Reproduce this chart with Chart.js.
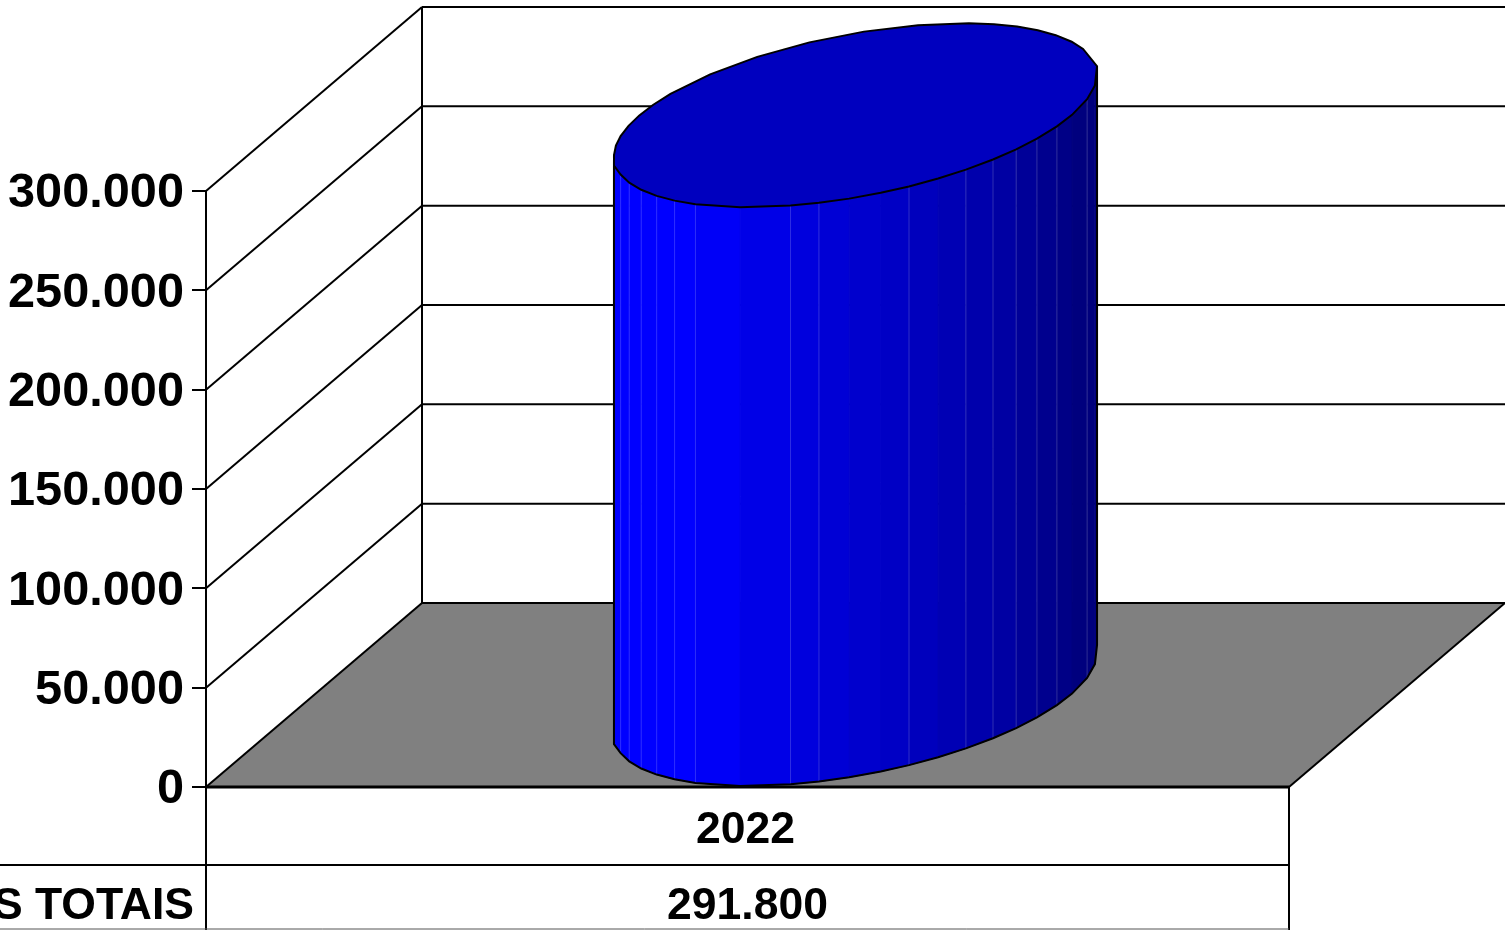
<!DOCTYPE html>
<html>
<head>
<meta charset="utf-8">
<title>Receitas totais</title>
<script src="https://cdn.jsdelivr.net/npm/chart.js@4"></script>
<style>
  html, body { margin: 0; padding: 0; background: #fff; overflow: hidden; }
  canvas { display: block; }
</style>
</head>
<body>
<canvas id="chart" width="1505" height="930"></canvas>
<script>
// data
const categories = ["2022"];
const seriesLabel = "S TOTAIS";
const seriesValues = [291800];
const yTicks = [0, 50000, 100000, 150000, 200000, 250000, 300000];

// 3d look
const DEPTH = { x: 216, y: -184 };
const FLOOR_COLOR = "#808080";
const TOP_COLOR = "#0000bf";
const FONT = "'Liberation Sans', Arial, sans-serif";
const ROW_LINE = 865;
// facet edges round the front of the cylinder, degrees from the left edge
const frontAngles = [6.5, 13.5, 20.5, 27.5, 34.6, 41.5, 48.5, 61.5, 74.4, 81.3, 88.5, 96, 102.8, 110, 117.2, 124.7, 131.7, 138.7, 146.5, 153.7, 163.5, 172.4];
// the back of the top rim has its own corners
const backAngles = [185.7, 199.6, 206.5, 214, 221, 228, 235, 242, 255, 268, 281, 294, 307, 320, 327, 333.5, 340, 346.5, 352.7, 359];
const seamAngles = [13.5, 20.5, 27.5, 34.6, 41.5, 48.5, 74.4, 81.3, 102.8, 117.2, 124.7, 131.7, 138.7, 146.5, 163.5];
// blue channel across the cylinder width
const shadeStops = [[0, 255], [0.17, 255], [0.28, 235], [0.6, 195], [0.8, 165], [0.97, 125], [1, 125]];

const fmt = v => v.toLocaleString("de-DE");

function shadeAt(f) {
  for (let i = 1; i < shadeStops.length; i++) {
    const a = shadeStops[i - 1], b = shadeStops[i];
    if (f <= b[0]) return Math.round(a[1] + (b[1] - a[1]) * (f - a[0]) / (b[0] - a[0]));
  }
  return 125;
}

function line(ctx, x1, y1, x2, y2, w, color) {
  ctx.beginPath();
  ctx.moveTo(x1, y1);
  ctx.lineTo(x2, y2);
  ctx.lineWidth = w || 2;
  ctx.strokeStyle = color || "#000";
  ctx.stroke();
}

// nudges the tick labels once the scales have laid them out
const labelNudgePlugin = {
  id: "labelNudge",
  beforeDraw(chart) {
    chart.scales.y.getLabelItems().forEach(it => { it.textOffset += 3; });
    chart.scales.x.getLabelItems().forEach(it => {
      const t = it.options.translation;
      it.options.translation = [t[0] - 2, t[1]];
    });
  }
};

// walls and floor, behind the bar
const wallsPlugin = {
  id: "walls",
  beforeDatasetsDraw(chart) {
    const { ctx, chartArea: a, scales: { y } } = chart;
    ctx.save();
    ctx.beginPath();
    ctx.moveTo(a.left, a.bottom);
    ctx.lineTo(a.right, a.bottom);
    ctx.lineTo(a.right + DEPTH.x, a.bottom + DEPTH.y);
    ctx.lineTo(a.left + DEPTH.x, a.bottom + DEPTH.y);
    ctx.closePath();
    ctx.fillStyle = FLOOR_COLOR;
    ctx.fill();
    yTicks.forEach(v => {
      const py = y.getPixelForValue(v);
      line(ctx, a.left, py, a.left + DEPTH.x, py + DEPTH.y);
      line(ctx, a.left + DEPTH.x, py + DEPTH.y, a.right + DEPTH.x, py + DEPTH.y);
    });
    line(ctx, a.left + DEPTH.x, a.top + DEPTH.y, a.left + DEPTH.x, a.bottom + DEPTH.y);
    line(ctx, a.right, a.bottom, a.right + DEPTH.x, a.bottom + DEPTH.y);
    line(ctx, a.left, a.bottom, a.right, a.bottom, 3);
    ctx.restore();
  }
};

// the bar element gives x, top, base and width, the cylinder is built on those
const cylinderPlugin = {
  id: "cylinder",
  afterDatasetsDraw(chart) {
    const { ctx } = chart;
    const bar = chart.getDatasetMeta(0).data[0];
    const R = bar.width / 2;
    const cx = bar.x + DEPTH.x / 2;
    const hd = { x: DEPTH.x / 2, y: DEPTH.y / 2 };
    const t0 = Math.PI + Math.atan2(hd.x, R);
    const halfW = Math.hypot(R, hd.x);
    const left = cx - halfW;
    const width = 2 * halfW;
    const first = frontAngles[0], last = frontAngles[frontAngles.length - 1];
    const rimPoint = (cy, deg) => {
      const t = t0 + deg * Math.PI / 180;
      const y = cy + hd.y * Math.sin(t);
      // these two corners sit on the silhouette
      if (deg === first) return { x: left, y };
      if (deg === backAngles[0]) return { x: left + width, y };
      return { x: cx + R * Math.cos(t) + hd.x * Math.sin(t), y };
    };
    const topY = bar.y + hd.y;
    const baseY = bar.base + hd.y;

    ctx.save();
    // silhouette strip behind the facets, right side reaches up to the back corner
    const backTop = rimPoint(topY, backAngles[0]);
    const backBase = rimPoint(baseY, backAngles[0]);
    const endTop = rimPoint(topY, last);
    const endBase = rimPoint(baseY, last);
    ctx.beginPath();
    ctx.moveTo(backTop.x, backTop.y);
    ctx.lineTo(backBase.x, backBase.y);
    ctx.lineTo(endBase.x, endBase.y);
    ctx.lineTo(endTop.x, endTop.y);
    ctx.closePath();
    ctx.fillStyle = `rgb(0,0,${shadeStops[shadeStops.length - 1][1]})`;
    ctx.fill();
    // facets
    for (let i = 0; i < frontAngles.length - 1; i++) {
      const a = frontAngles[i], b = frontAngles[i + 1];
      const p1 = rimPoint(topY, a), p2 = rimPoint(topY, b);
      const q2 = rimPoint(baseY, b), q1 = rimPoint(baseY, a);
      const c = `rgb(0,0,${shadeAt(((p1.x + p2.x) / 2 - left) / width)})`;
      ctx.beginPath();
      ctx.moveTo(p1.x, p1.y);
      ctx.lineTo(p2.x, p2.y);
      ctx.lineTo(q2.x, q2.y);
      ctx.lineTo(q1.x, q1.y);
      ctx.closePath();
      ctx.fillStyle = c;
      ctx.strokeStyle = c;
      ctx.lineWidth = 1;
      ctx.fill();
      ctx.stroke();
    }
    // seams
    seamAngles.forEach(a => {
      const p = rimPoint(topY, a), q = rimPoint(baseY, a);
      line(ctx, p.x, p.y, q.x, q.y, 1, "rgba(255,255,255,0.18)");
    });
    // outline of the body
    ctx.beginPath();
    let p = rimPoint(topY, first);
    ctx.moveTo(p.x, p.y);
    frontAngles.forEach(a => { const q = rimPoint(baseY, a); ctx.lineTo(q.x, q.y); });
    ctx.lineTo(backBase.x, backBase.y);
    ctx.lineTo(backTop.x, backTop.y);
    ctx.lineWidth = 2;
    ctx.strokeStyle = "#000";
    ctx.stroke();
    // top face
    ctx.beginPath();
    frontAngles.concat(backAngles).forEach((a, i) => {
      const q = rimPoint(topY, a);
      if (i) ctx.lineTo(q.x, q.y); else ctx.moveTo(q.x, q.y);
    });
    ctx.closePath();
    ctx.fillStyle = TOP_COLOR;
    ctx.fill();
    ctx.stroke();
    ctx.restore();
  }
};

// data table under the axis
const tablePlugin = {
  id: "table",
  afterDraw(chart) {
    const { ctx, chartArea: a, scales: { x } } = chart;
    const h = chart.height;
    ctx.save();
    line(ctx, a.left, a.bottom, a.left, h);
    line(ctx, a.right, a.bottom, a.right, h);
    line(ctx, 0, ROW_LINE, a.right, ROW_LINE);
    line(ctx, 0, h - 1, a.right, h - 1, 1, "#555");
    ctx.fillStyle = "#000";
    ctx.font = `bold 44.5px ${FONT}`;
    ctx.textBaseline = "middle";
    ctx.textAlign = "right";
    ctx.fillText(seriesLabel, 194, 907);
    ctx.textAlign = "center";
    seriesValues.forEach((v, i) => ctx.fillText(fmt(v), x.getPixelForTick(i), 907));
    ctx.restore();
  }
};

new Chart(document.getElementById("chart").getContext("2d"), {
  type: "bar",
  data: {
    labels: categories,
    datasets: [{
      label: seriesLabel,
      data: seriesValues,
      backgroundColor: "rgba(0,0,0,0)",
      barPercentage: 0.399,
      categoryPercentage: 1,
    }],
  },
  options: {
    responsive: false,
    animation: false,
    devicePixelRatio: 1,
    layout: { padding: { top: 191, right: 216, left: 0, bottom: 0 } },
    plugins: {
      legend: { display: false },
      title: { display: false },
      tooltip: { enabled: false },
    },
    scales: {
      x: {
        afterFit: s => { s.height = 143; },
        grid: { display: false },
        border: { display: false },
        ticks: { color: "#000", padding: 9, maxRotation: 0, font: { family: FONT, weight: "bold", size: 44.5 } },
      },
      y: {
        min: 0,
        max: 300000,
        afterFit: s => { s.width = 206; },
        afterBuildTicks: s => { s.ticks = yTicks.map(v => ({ value: v })); },
        grid: { drawOnChartArea: false, color: "#000", lineWidth: 2, tickLength: 14 },
        border: { display: true, color: "#000", width: 2 },
        ticks: { color: "#000", padding: 8, callback: v => fmt(v), font: { family: FONT, weight: "bold", size: 48.7 } },
      },
    },
  },
  plugins: [labelNudgePlugin, wallsPlugin, cylinderPlugin, tablePlugin],
});
</script>
</body>
</html>
